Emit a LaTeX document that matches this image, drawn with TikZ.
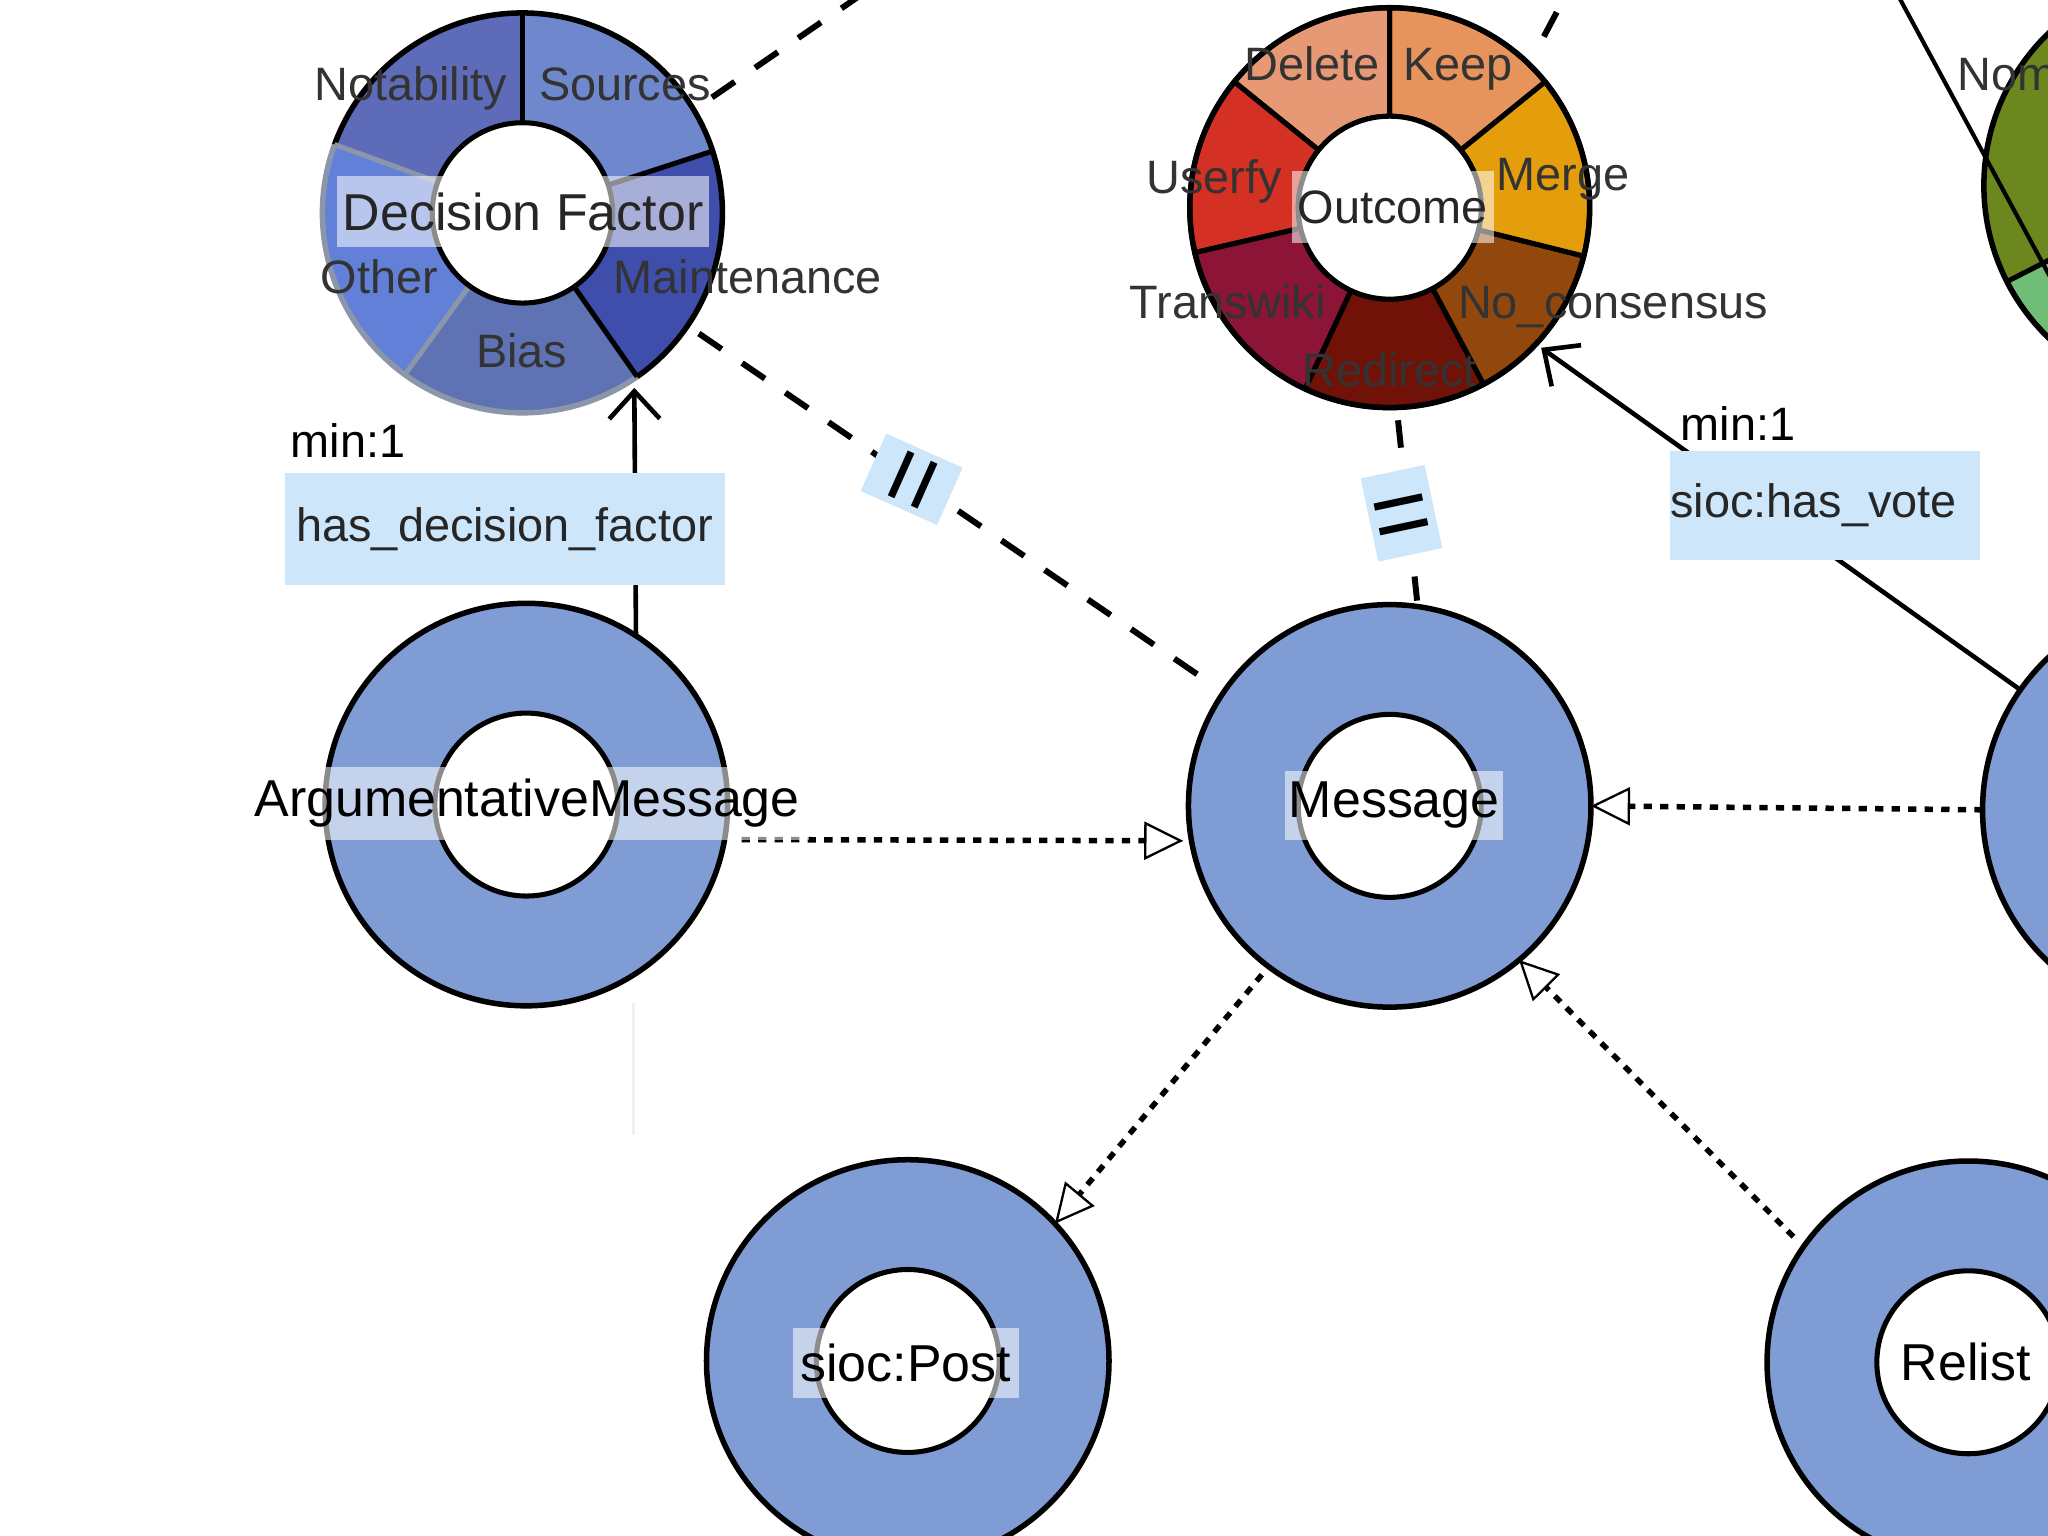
\documentclass[tikz,border=0pt]{standalone}
\usepackage{fontspec}
\setmainfont{Liberation Sans}
\usetikzlibrary{arrows.meta}
\definecolor{ringblue}{RGB}{127,157,212}
\definecolor{lblue}{RGB}{205,230,250}
\definecolor{dfnot}{RGB}{93,107,184}
\definecolor{dfsrc}{RGB}{110,135,205}
\definecolor{dfmnt}{RGB}{62,78,170}
\definecolor{dfbias}{RGB}{95,115,180}
\definecolor{dfoth}{RGB}{98,128,215}
\definecolor{dfgray}{RGB}{140,150,170}
\definecolor{odel}{RGB}{231,153,118}
\definecolor{okeep}{RGB}{230,148,92}
\definecolor{omerge}{RGB}{228,158,12}
\definecolor{onocon}{RGB}{146,72,12}
\definecolor{oredir}{RGB}{112,18,8}
\definecolor{otrans}{RGB}{140,20,55}
\definecolor{ouserfy}{RGB}{212,48,35}
\definecolor{olivegr}{RGB}{107,135,30}
\definecolor{lgreen}{RGB}{110,190,120}
\newcommand\pieseg[3]{\path[#3] (#1:\PRo) arc[start angle=#1,end angle=#2,radius=\PRo] -- (#2:\PRi) arc[start angle=#2,end angle=#1,radius=\PRi] -- cycle;}
\begin{document}
\begin{tikzpicture}[x=0.01cm,y=-0.01cm,
  ring/.style={circle, draw=black, line width=1.2pt, fill=ringblue, minimum size=3.08cm, inner sep=0pt, outer sep=0pt},
  hole/.style={circle, draw=black, line width=1.1pt, fill=white, minimum size=1.40cm, inner sep=0pt, outer sep=0pt},
  piebase/.style={circle, minimum size=3.06cm, inner sep=0pt, outer sep=0pt},
  namebox/.style={fill=white, fill opacity=0.55, text opacity=1, inner sep=0pt, font=\fontsize{11.3}{13}\selectfont},
  seglbl/.style={anchor=base, text=black!80, inner sep=0pt, font=\fontsize{10.2}{12}\selectfont},
  edgebox/.style={fill=lblue, inner sep=0pt, text=black!85, font=\fontsize{10.2}{12}\selectfont},
  card/.style={anchor=base west, inner sep=0pt, font=\fontsize{10.2}{12}\selectfont},
  gen/.style={line width=1.2pt, dash pattern=on 1.8pt off 1.8pt, -{Triangle[open, length=8.5pt, width=8.3pt, line width=0.5pt]}},
  eqln/.style={line width=1.3pt, dash pattern=on 6pt off 5.4pt},
  assoc/.style={line width=1pt, -{Straight Barb[length=6pt, width=11pt]}},
  eqbox/.style={fill=lblue, inner sep=0pt, font=\fontsize{22}{22}\selectfont}]
\useasboundingbox (0,0) rectangle (1568,1176);
\clip (0,0) rectangle (1568,1176);
\fill[white] (0,0) rectangle (1568,1176);

% ---------- Decision Factor pie
\node[piebase] (df) at (400,163) {};
\begin{scope}[shift={(400,163)}]
  \def\PRo{1.53cm}\def\PRi{0.69cm}
  \pieseg{18}{90}{fill=dfsrc}
  \pieseg{90}{160}{fill=dfnot}
  \pieseg{160}{234}{fill=dfoth}
  \pieseg{234}{305}{fill=dfbias}
  \pieseg{-55}{18}{fill=dfmnt}
  \draw[dfgray, line width=1.2pt] (160:\PRo) arc[start angle=160,end angle=305,radius=\PRo];
  \draw[black, line width=1.2pt] (-55:\PRo) arc[start angle=-55,end angle=160,radius=\PRo];
  \draw[dfgray, line width=1.1pt] (160:\PRi) -- (160:\PRo);
  \draw[dfgray, line width=1.1pt] (234:\PRi) -- (234:\PRo);
  \draw[black, line width=1.1pt] (90:\PRi) -- (90:\PRo);
  \draw[black, line width=1.1pt] (18:\PRi) -- (18:\PRo);
  \draw[black, line width=1.1pt] (-55:\PRi) -- (-55:\PRo);
  \draw[black, line width=1.1pt, fill=white] (0,0) circle[radius=\PRi];
\end{scope}

% ---------- Outcome pie
\node[piebase] (oc) at (1064,159) {};
\begin{scope}[shift={(1064,159)}]
  \def\PRo{1.53cm}\def\PRi{0.70cm}
  \pieseg{39}{90}{fill=okeep, draw=black, line width=1.1pt}
  \pieseg{90}{141}{fill=odel, draw=black, line width=1.1pt}
  \pieseg{141}{193}{fill=ouserfy, draw=black, line width=1.1pt}
  \pieseg{193}{245}{fill=otrans, draw=black, line width=1.1pt}
  \pieseg{245}{298}{fill=oredir, draw=black, line width=1.1pt}
  \pieseg{298}{346}{fill=onocon, draw=black, line width=1.1pt}
  \pieseg{-14}{39}{fill=omerge, draw=black, line width=1.1pt}
  \draw[black, line width=1.2pt] (0,0) circle[radius=\PRo];
  \draw[black, line width=1.1pt, fill=white] (0,0) circle[radius=\PRi];
\end{scope}

% ---------- green pie (partly visible)
\node[piebase, minimum size=3.24cm] (gp) at (1681,142) {};
\begin{scope}[shift={(1681,142)}]
  \def\PRo{1.62cm}\def\PRi{0.75cm}
  \pieseg{-153}{207}{fill=olivegr}
  \pieseg{207}{255}{fill=lgreen, draw=black, line width=1.1pt}
  \draw[black, line width=1.2pt] (0,0) circle[radius=\PRo];
  \draw[black, line width=1.1pt, fill=white] (0,0) circle[radius=\PRi];
\end{scope}
\coordinate (gl1) at (1454,-2);
\coordinate (gl2) at (1575,222);
\draw[line width=0.9pt] (gl1) -- (gl2);
\node[seglbl, anchor=base west] (nom) at (1498,69) {Nom};

% ---------- class rings
\node[ring] (am) at (403,616) {};
\node[hole] at (am) {};
\node[ring] (msg) at (1064,617) {};
\node[hole] at (msg) {};
\node[ring] (post) at (695,1042) {};
\node[hole] at (post) {};
\node[ring] (rel) at (1507,1043) {};
\node[hole] at (rel) {};
\node[ring, minimum size=3.2cm] (rt) at (1678,620) {};
\node[hole] at (rt) {};

% faint trace below ArgumentativeMessage
\draw[black, opacity=0.06, line width=0.8pt] (485,768) -- (485,869);

% ---------- connectors
\draw[assoc, shorten >=2pt] (am.57.4) -- (df.-56.5);
\draw[assoc, shorten >=1.4pt] (rt.145.2) -- (oc.-43.5);
\draw[eqln, shorten <=3pt, shorten >=3pt] (df) -- (msg);
\draw[eqln, shorten <=2.8pt, shorten >=1.3pt] (oc.-88.6) -- (msg.82);
\coordinate (dfup) at (668,-10);
\draw[eqln, shorten <=4.8pt] (df.31) -- (dfup);
\coordinate (ocup1) at (1182,28);
\coordinate (ocup2) at (1200,-6);
\draw[eqln] (ocup1) -- (ocup2);
\draw[gen, shorten <=3.7pt, shorten >=1.8pt] (am.-10) -- (msg.190.4);
\draw[gen, shorten <=2.3pt] (msg.-127.7) -- (post.43.3);
\draw[gen, shorten <=3.1pt] (rel.145.6) -- (msg.-50);
\draw[gen] (rt.180) -- (msg.0.4);

% ---------- connector labels
\node[edgebox, minimum width=3.37cm, minimum height=0.86cm] (hdf) at (386.5,405) {has\_decision\_factor};
\node[card] (m1) at (222,350.5) {min:1};
\node[edgebox, minimum height=0.84cm, text width=2.37cm, align=left] (hv) at (1397.5,387) {sioc:has\_vote};
\node[card] (m2) at (1286,337.5) {min:1};
\node[eqbox, rotate=66, minimum width=0.48cm, minimum height=0.64cm] (eq1) at (698,367) {\raisebox{-0.34em}[0pt][0pt]{=}};
\node[eqbox, rotate=12, minimum width=0.50cm, minimum height=0.65cm] (eq2) at (1073,393) {\raisebox{-0.34em}[0pt][0pt]{=}};

% ---------- pie labels
\node[seglbl] (lnot) at (314.5,77) {Notability};
\node[seglbl] (lsrc) at (478.5,77) {Sources};
\node[seglbl] (loth) at (290.5,225) {Other};
\node[seglbl] (lmnt) at (572.5,225) {Maintenance};
\node[seglbl] (lbias) at (399.5,281) {Bias};
\node[namebox, text=black!85, minimum width=2.85cm, minimum height=0.54cm] (ldf) at (400.5,162) {Decision Factor};

\node[seglbl] (ldel) at (1004.5,62) {Delete};
\node[seglbl] (lkeep) at (1116.5,62) {Keep};
\node[seglbl] (lusr) at (929.5,148) {Userfy};
\node[seglbl] (lmrg) at (1196.5,146) {Merge};
\node[seglbl] (ltrw) at (940,244) {Transwiki};
\node[seglbl] (lnoc) at (1235,244) {No\_consensus};
\node[seglbl] (lred) at (1064,296) {Redirect};
\node[namebox, text=black!85, font=\fontsize{10.2}{12}\selectfont, minimum width=1.55cm, minimum height=0.55cm] (loc) at (1066.5,158.5) {Outcome};

% ---------- class labels
\node[namebox, inner xsep=2pt, minimum height=0.56cm] (lam) at (403.5,615) {ArgumentativeMessage};
\node[namebox, minimum width=1.67cm, minimum height=0.53cm] (lmsg) at (1067.5,616.5) {Message};
\node[namebox, minimum width=1.73cm, minimum height=0.53cm] (lpost) at (693.5,1043.5) {sioc:Post};
\node[namebox, minimum width=1.05cm, minimum height=0.53cm] (lrel) at (1505,1043) {Relist};
\end{tikzpicture}
\end{document}
